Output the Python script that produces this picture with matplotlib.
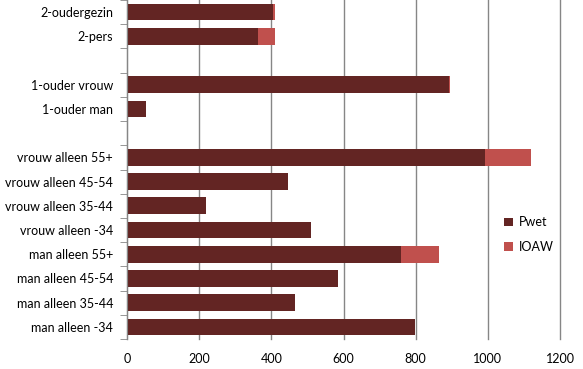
import matplotlib
matplotlib.use("Agg")
import matplotlib.pyplot as plt
import numpy as np

categories = ["man alleen -34", "man alleen 35-44", "man alleen 45-54", "man alleen 55+",
              "vrouw alleen -34", "vrouw alleen 35-44", "vrouw alleen 45-54", "vrouw alleen 55+",
              "", "1-ouder man", "1-ouder vrouw", "", "2-pers", "2-oudergezin"]
pwet = [798, 465, 584, 759, 510, 219, 445, 992, 0, 53, 892, 0, 362, 404]
ioaw = [0, 0, 0, 105, 0, 0, 0, 127, 0, 0, 3, 0, 48, 6]
xticks = [0, 200, 400, 600, 800, 1000, 1200]

plt.rcParams['font.family'] = ['Lato', 'DejaVu Sans']
fig = plt.figure(figsize=(5.83, 3.69), dpi=100)
ax = fig.add_axes([127/583, 1 - 339/369, (560 - 127)/583, 339/369])

y = np.arange(len(categories))
ax.barh(y, pwet, height=0.69, color="#632523", label="Pwet", zorder=3)
ax.barh(y, ioaw, left=pwet, height=0.69, color="#C0504D", label="IOAW", zorder=3)

ax.set_ylim(-0.5, len(categories) - 0.5)
ax.set_xlim(0, 1200)
ax.set_xticks(xticks)
ax.set_xticklabels([str(v) for v in xticks], fontsize=9)
ax.set_yticks(y)
ax.set_yticklabels(categories, fontsize=9)
ax.tick_params(axis='y', which='major', length=0, pad=10)
ax.set_yticks(np.arange(-0.5, len(categories), 1), minor=True)
ax.tick_params(axis='y', which='minor', length=5, color="#868686", direction='out')
ax.tick_params(axis='x', length=0, pad=10)

ax.grid(axis='x', color="#868686", linewidth=1, zorder=0)
for gl in ax.get_xgridlines():
    gl.set_clip_on(False)
for s in ['top', 'right', 'bottom']:
    ax.spines[s].set_visible(False)
ax.spines['left'].set_color("#868686")
ax.spines['left'].set_zorder(4)

leg = ax.legend(loc='upper left', bbox_to_anchor=(0.845, 0.395), frameon=False,
                fontsize=9, handlelength=0.7, handleheight=0.7, labelspacing=1.0,
                handletextpad=0.5)

fig.savefig("out.png", dpi=100)
